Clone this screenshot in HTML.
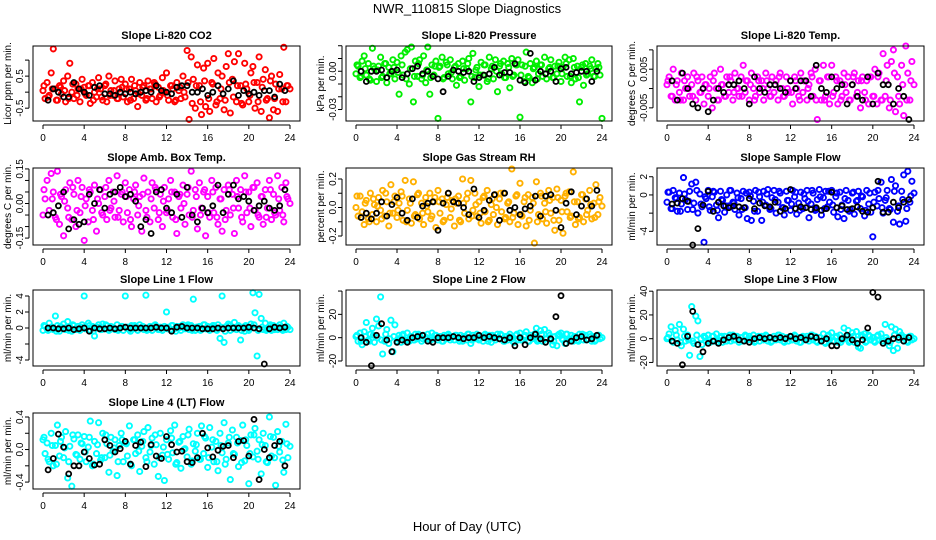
<!DOCTYPE html>
<html><head><meta charset="utf-8"><style>
html,body{margin:0;padding:0;background:#fff;}
svg{display:block;font-family:"Liberation Sans",sans-serif;}
</style></head><body>
<svg id="chart" width="936" height="540" viewBox="0 0 936 540">
<rect width="936" height="540" fill="#fff"/>
<text x="467" y="13" font-size="13" text-anchor="middle">NWR_110815  Slope Diagnostics</text>
<text x="467" y="531" font-size="13" text-anchor="middle">Hour of Day (UTC)</text>
</svg>
<script>
const hoursColor = [0,0.2,0.4,0.6,0.8,1,1.2,1.4,1.6,1.8,2,2.2,2.4,2.6,2.8,3,3.2,3.4,3.6,3.8,4,4.2,4.4,4.6,4.8,5,5.2,5.4,5.6,5.8,6,6.2,6.4,6.6,6.8,7,7.2,7.4,7.6,7.8,8,8.2,8.4,8.6,8.8,9,9.2,9.4,9.6,9.8,10,10.2,10.4,10.6,10.8,11,11.2,11.4,11.6,11.8,12,12.2,12.4,12.6,12.8,13,13.2,13.4,13.6,13.8,14,14.2,14.4,14.6,14.8,15,15.2,15.4,15.6,15.8,16,16.2,16.4,16.6,16.8,17,17.2,17.4,17.6,17.8,18,18.2,18.4,18.6,18.8,19,19.2,19.4,19.6,19.8,20,20.2,20.4,20.6,20.8,21,21.2,21.4,21.6,21.8,22,22.2,22.4,22.6,22.8,23,23.2,23.4,23.6,23.8,24];
const hoursBand = [0.1,0.5,0.9,1.3,1.7,2.1,2.5,2.9,3.3,3.7,4.1,4.5,4.9,5.3,5.7,6.1,6.5,6.9,7.3,7.7,8.1,8.5,8.9,9.3,9.7,10.1,10.5,10.9,11.3,11.7,12.1,12.5,12.9,13.3,13.7,14.1,14.5,14.9,15.3,15.7,16.1,16.5,16.9,17.3,17.7,18.1,18.5,18.9,19.3,19.7,20.1,20.5,20.9,21.3,21.7,22.1,22.5,22.9,23.3,23.7];
const hoursBlack = [0.5,1,1.5,2,2.5,3,3.5,4,4.5,5,5.5,6,6.5,7,7.5,8,8.5,9,9.5,10,10.5,11,11.5,12,12.5,13,13.5,14,14.5,15,15.5,16,16.5,17,17.5,18,18.5,19,19.5,20,20.5,21,21.5,22,22.5,23,23.5];
const xTicks = [0,4,8,12,16,20,24];

const co2Vals = [.05,-.2,.3,-.1,.6,1.35,.1,-.25,.2,-.05,.35,-.3,.5,.9,0,-.2,.25,.1,-.3,.4,.15,-.1,.2,-.35,.3,0,-.15,.45,.1,-.25,.2,-.3,.5,.05,-.1,.35,-.2,.1,.4,-.15,.25,-.3,.1,.4,-.2,.05,-.45,.3,-.1,.2,-.25,.35,.1,-.2,.3,-.3,.15,-.1,.45,0,.6,-.25,.2,.1,-.3,.3,.05,-.2,.5,-.15,1.3,-.85,1.1,.4,-.5,.85,.2,-.7,.75,-.45,.9,-.6,.3,1.05,-.4,.6,-.2,.5,-.55,.8,1.2,-.65,.4,.95,-.3,1.2,.2,-.4,.9,.1,-.3,.6,.8,-.5,.3,1.1,-.6,.4,.7,-.2,-.8,.5,-.55,.25,-.6,.55,.1,1.4,-.3,.2,.1];
const co2Band = [.2,-.15,.1,-.25,.15,.05,-.2,.25,-.1,.1,-.05,.2,-.25,.1,-.15,.25,-.1,.05,-.2,.15,.1,-.25,.2,-.05,.15,-.2,.1,.25,-.15,.05,-.1,.2,-.25,.15,0,.3,-.35,.2,-.3,.35,-.2,.25,-.3,.1,-.25,.3,-.15,.2,-.35,.25,-.1,.3,-.3,.15,-.25,.35,-.2,.1,-.3,.2];
const co2Black = [-.25,.1,0,-.15,-.15,.3,.1,0,-.1,.15,.2,-.05,-.05,-.1,0,-.05,0,-.05,0,.05,0,.2,.05,0,-.05,.15,.2,.2,0,0,.1,-.1,0,.2,-.05,.1,.35,-.1,.05,-.05,0,-.1,.05,.05,-.15,.25,.05];
const presVals = [-.002,.004,-.005,.008,.012,-.003,.006,-.007,.018,.002,-.008,.004,.011,-.004,.006,-.009,.003,-.002,.009,-.006,.007,-.018,.012,-.003,.015,.017,-.01,.019,-.024,.008,-.004,.009,-.006,.012,-.009,.019,-.018,.005,-.003,.008,-.037,.004,.011,-.005,.007,-.002,.009,-.006,.003,-.011,.006,-.004,.008,-.007,.002,.01,-.024,.014,-.005,.003,-.012,.007,-.003,.005,-.008,.011,.002,-.006,.009,-.016,.004,-.002,.008,-.005,.006,-.013,.01,-.003,.005,.009,-.036,.005,-.008,.015,-.004,.006,-.009,.003,.008,-.002,.005,-.004,.011,-.006,.002,.009,-.005,.004,-.002,.007,-.008,.003,.011,-.004,.009,-.009,.01,-.006,.004,-.024,.003,-.011,.006,-.002,.004,.009,-.004,.002,.006,-.003,-.037];
const presBand = [.005,-.004,.002,-.006,.004,.001,-.005,.006,-.002,.003,-.001,.005,-.006,.002,-.004,.006,-.003,.001,-.005,.004,.003,-.006,.005,-.001,.004,-.005,.002,.006,-.004,.001,-.003,.005,-.006,.004,0,.006,-.005,.003,-.004,.005,-.003,.004,-.005,.002,-.006,.005,-.002,.003,-.005,.004,-.002,.006,-.004,.003,-.005,.005,-.003,.002,-.004,.003];
const presBlack = [0,-.008,0,0,.001,-.005,0,.001,-.005,-.002,.002,.004,-.002,0,-.004,-.006,-.016,-.004,.001,0,-.001,0,-.008,-.005,-.003,-.002,.003,-.003,-.001,-.001,.006,-.007,-.009,.014,-.007,0,-.002,0,-.008,.002,.003,-.002,-.001,0,0,-.008,0];
const tempVals = [.001,.003,-.002,.005,-.003,.002,-.001,.004,-.003,0,.003,-.002,.001,.004,-.003,.002,-.001,.003,-.004,.001,-.002,.003,-.005,.004,0,-.003,.005,.001,-.002,.003,-.001,.002,-.003,.004,0,-.002,.003,.006,-.001,.002,-.003,.004,0,-.002,.003,-.001,.002,-.003,.004,0,-.002,.003,-.001,.002,-.003,.004,0,-.002,.003,-.001,.002,-.004,.003,0,-.002,.004,-.001,.002,-.003,.001,.004,-.002,.005,-.008,.002,-.003,.006,-.002,.003,-.004,.006,-.001,.003,-.004,.002,-.002,.004,-.001,.003,-.003,.001,.004,-.002,.002,-.005,.003,-.001,.002,-.004,.003,-.002,.005,-.004,.004,-.003,.009,-.002,.006,-.005,.007,.01,-.006,.003,-.004,.006,-.007,.011,.004,-.003,.007,.001];
const tempBand = [.002,-.002,.001,-.003,.002,0,-.002,.003,-.001,.001,0,.002,-.003,.001,-.002,.003,-.001,0,-.002,.002,.001,-.003,.002,0,.002,-.002,.001,.003,-.002,0,-.001,.002,-.003,.002,0,.003,-.003,.002,-.003,.003,-.002,.002,-.003,.001,-.003,.003,-.001,.002,-.003,.003,-.002,.003,-.003,.002,-.003,.004,-.002,.001,-.003,.002];
const tempBlack = [.002,-.003,.004,0,-.004,-.005,0,-.006,-.003,0,-.001,.001,.001,.002,0,-.004,.003,0,-.001,.001,.001,0,-.001,.002,0,.002,.002,-.002,.006,0,-.001,.003,0,.001,-.004,.001,-.002,-.003,.003,-.004,.004,.001,.001,-.004,0,-.002,-.008];
const ambVals = [-.05,.02,.1,-.03,.13,.05,-.06,.14,-.09,.03,-.14,.06,-.02,.09,-.07,.04,-.1,.1,-.04,.07,-.16,.02,-.08,.05,-.03,.08,-.12,0,.06,-.05,.03,-.07,.1,-.02,.05,-.06,.12,-.03,.04,-.08,.09,-.04,.06,-.1,.02,.08,-.05,.03,-.12,.11,-.03,.05,-.08,.09,-.02,.06,-.07,.04,-.1,.07,-.04,.02,.1,-.06,.05,-.13,.03,-.02,.08,-.09,.04,-.05,.14,-.03,.06,-.11,.09,-.02,.05,-.14,.03,-.06,.1,-.04,.07,-.09,.02,-.12,.06,-.03,.08,-.05,.04,-.13,.1,-.02,.06,-.08,.12,-.04,.05,-.1,.07,-.03,.09,-.06,.03,-.09,.06,-.02,.1,-.07,.04,-.05,.12,-.03,.07,-.08,.09,.02,0];
const ambBand = [.06,-.05,.02,-.07,.04,.01,-.06,.07,-.03,.03,-.01,.06,-.07,.02,-.04,.07,-.03,.01,-.06,.05,.03,-.07,.05,-.01,.04,-.06,.02,.07,-.04,.01,-.03,.05,-.07,.04,0,.07,-.06,.03,-.05,.06,-.04,.05,-.06,.02,-.07,.06,-.02,.03,-.06,.05,-.02,.07,-.05,.03,-.06,.06,-.04,.02,-.05,.03];
const ambBlack = [-.05,-.04,-.01,.05,-.11,-.07,-.09,-.08,.04,0,.06,-.02,.04,.05,.07,.03,.04,.01,-.1,-.07,-.13,.05,.06,-.02,-.04,.04,-.06,.07,-.05,-.08,-.02,-.04,-.01,.08,-.04,.04,.08,.02,.03,.01,-.03,-.01,.01,-.02,-.03,-.01,.06];
const rhVals = [0,-.06,.08,-.03,-.12,.05,-.08,.1,-.05,.02,-.1,.07,-.02,.12,-.06,.04,-.13,.16,-.04,.08,-.07,.03,.11,-.09,.19,-.02,.06,-.11,.18,-.05,.09,-.08,.03,-.12,.07,-.03,.1,-.06,.04,-.14,.12,-.04,.06,-.09,.02,.1,-.07,.05,-.13,.03,.08,-.1,.2,-.04,.06,-.08,.19,-.02,.1,-.06,.04,-.11,.07,-.03,.12,-.09,.02,-.05,.09,-.12,.06,-.03,.1,-.07,.03,-.1,.27,-.04,.08,-.12,.17,-.06,.04,-.13,.09,-.02,.07,-.25,.18,-.05,.1,-.08,.03,-.11,.12,-.04,.07,-.16,.13,-.09,.05,-.18,.08,-.03,.11,-.06,.25,-.12,.04,-.07,.09,-.1,.06,-.02,.12,-.08,.03,.16,-.05,.07,.01];
const rhBand = [.08,-.07,.03,-.1,.06,.01,-.08,.1,-.04,.04,-.02,.08,-.1,.03,-.06,.1,-.04,.01,-.08,.07,.04,-.1,.07,-.01,.06,-.09,.03,.1,-.06,.02,-.04,.08,-.1,.06,0,.1,-.08,.04,-.07,.09,-.05,.07,-.09,.03,-.1,.08,-.03,.05,-.09,.07,-.03,.1,-.07,.04,-.08,.09,-.05,.02,-.07,.04];
const rhBlack = [-.07,-.04,-.08,-.04,.04,-.06,.02,.07,-.04,-.09,.06,-.07,.01,.03,.04,-.16,.03,.1,.04,.03,0,-.05,.13,-.07,-.02,.05,.09,-.09,.1,-.02,0,-.05,-.01,.01,.08,-.06,.08,.09,-.02,-.14,.03,.11,-.05,.01,.06,.01,.12];
const flowVals = [-.8,.3,-1.5,.5,-.3,-1.8,.2,-1,1.9,-.5,-1.6,.4,1.2,-.9,1.4,-2,.1,-1.3,-5.2,-.4,.5,-1.7,-.2,.3,-1.1,-2.5,.4,-.6,-1.9,0,-1.2,.5,-.8,-1.6,.2,-2.2,-.4,.4,-1.4,-2.6,.3,-2.8,-.7,.5,-1.8,-.2,-2.8,.4,-1.1,.6,-1.6,-.3,.5,-2,-.8,.2,-1.4,-2.2,.4,-.6,-1.7,.5,-.2,-2.1,-.9,.3,-1.5,-.4,.5,-2.5,-1,.2,-1.7,-.5,.6,-2.2,-.3,.4,-1.3,-.8,.5,-1.9,-.2,-2.4,.3,-1.1,-2.6,.5,-.6,-1.6,.2,-2.1,-.7,.4,-1.5,-.2,-2.3,.5,-1,-1.9,-4.6,.3,-1.2,-.4,1.4,-2,-.6,.5,-1.5,1.7,-3,1,-1.8,-3.2,.4,2.2,-2.9,2.6,-.8,1.5,.2];
const flowBand = [.3,-1.5,-.4,-1.8,.1,-.7,-1.6,.5,-1,-.2,-1.3,.4,-1.7,-.5,-1.2,.5,-.9,-.3,-1.6,.2,-.1,-1.8,.3,-.8,.1,-1.5,-.5,.4,-1.4,-.6,-1,.3,-1.7,.1,-.7,.5,-1.6,-.2,-1.5,.4,-1.1,.2,-1.6,-.4,-1.8,.3,-.6,-.1,-1.7,.2,-.8,.5,-1.4,-.3,-1.6,.4,-1.2,-.5,-1.5,-.1];
const flowBlack = [-1,-.9,-.4,-.7,-5.5,-3.7,-1.1,.4,-1.8,-.8,-1.2,-1.4,-1.2,-1.3,-1.4,-.4,-1.5,-.9,-1.2,-1.3,-.8,-1.8,-1.5,.6,-1.5,-1.3,-1.4,-1.6,-1.4,-1.7,-1.5,.3,-1.4,-1.2,-1.6,-1.5,-1.3,-1.8,-1.9,-1.4,1.5,-1.9,-1.9,-.8,-1.4,-.8,-.5];
const l1Vals = [-.3,.2,-.1,.6,.1,-.2,1.5,.3,-.4,0,.5,-.2,.8,.1,-.4,.3,-.1,.2,-.3,.4,4,.1,.6,-.3,.2,-1,0,.4,-.2,.5,-.1,.3,-.3,.2,0,-.2,.4,-.1,.2,-.3,4,.1,-.2,.3,-.1,.2,-.3,.4,0,-.2,4.1,-.1,.2,-.3,.3,0,-.2,.1,-.3,.2,2,.1,-.2,.3,-.1,.2,0,-.3,.4,-.1,.2,-.2,.3,3.6,-.3,.1,.2,-.2,.4,-.1,.2,-.3,.1,.3,-.2,.4,-1.3,4,-1.8,.2,.5,-.3,.1,.7,-.2,.3,-1.5,.1,-.4,.2,-.3,.5,4.4,1.9,-3.5,4.2,1.2,-.2,.6,-.1,.2,-.3,.3,.1,-.2,.4,-.1,.6,-.2,.1,-.2];
const l1Band = [.3,-.3,.1,-.4,.2,0,-.3,.4,-.2,.1,-.1,.3,-.4,.1,-.2,.4,-.2,0,-.3,.2,.1,-.4,.3,0,.2,-.3,.1,.4,-.2,0,-.1,.3,-.4,.2,0,.4,-.3,.1,-.3,.4,-.2,.3,-.3,.1,-.4,.3,-.1,.2,-.3,.3,-.1,.4,-.3,.1,-.3,.4,-.2,.1,-.3,.2];
const l1Black = [0,0,-.1,-.1,0,-.2,-.1,0,-.4,0,-.1,-.1,0,-.1,0,.1,0,0,0,0,0,.1,0,0,-.4,.1,.2,0,0,0,-.1,-.1,-.1,0,-.1,0,0,0,0,.1,0,-.1,-4.5,-.1,.1,0,.1];
const l2Vals = [1,-3,4,-6,5,13,-2,3,8,-4,16,10,35,-14,-3,7,-5,15,-12,11,-3,2,-4,3,-2,4,-3,1,-2,3,-1,2,-3,2,-1,3,-2,4,-1,2,-2,1,-3,2,-1,3,-2,1,-2,2,-1,2,-3,1,-2,3,-5,2,-1,3,-2,1,-3,3,-1,2,-4,1,-2,3,-1,2,-3,1,-2,3,-1,-4,2,-2,4,-2,1,5,-3,2,-1,3,8,-2,6,-3,7,-1,4,-2,-6,1,-7,3,4,-2,-5,3,-1,2,-3,1,-2,3,1,-2,2,-1,3,-3,1,-2,2,-1,0];
const l2Band = [2,-3,1,-3,2,0,-2,3,-1,1,-1,2,-3,1,-2,3,-1,0,-2,2,1,-3,2,0,2,-3,1,3,-2,0,-1,2,-3,2,0,3,-3,1,-3,3,-2,2,-3,1,-3,3,-1,2,-3,2,-1,3,-2,1,-3,3,-2,1,-3,2];
const l2Black = [0,-4,-24,2,12,-2,-12,-4,-2,-4,0,1,2,-3,-4,0,0,0,1,0,-1,0,0,2,0,1,0,-1,-2,0,-7,0,-6,0,3,-1,-4,-1,18,36,-5,-3,0,1,-2,-1,2];
const l3Vals = [0,4,10,-3,7,-1,12,-6,8,-2,3,-14,27,-4,19,15,-15,-5,2,-2,3,-3,2,-2,4,-1,1,-3,2,-2,1,-2,3,-1,2,-3,1,-2,3,-1,2,-1,3,-2,1,-2,2,-1,3,-2,1,-2,2,-1,3,-1,2,-3,1,-2,2,-1,3,-2,1,-3,2,-1,2,-2,3,-1,2,-3,1,-2,4,-4,2,-1,5,-2,1,-3,3,-1,9,2,7,-2,5,-3,6,-7,-8,2,4,-2,3,-1,1,-3,2,-1,4,-2,12,-1,-6,10,-10,8,-8,6,3,-2,1,-3,2,-1,0];
const l3Band = [1,-2,3,-3,2,-1,-2,3,0,1,-1,2,-3,2,-2,3,-1,1,-2,2,0,-3,2,1,2,-3,0,3,-2,1,-1,2,-3,1,0,3,-2,1,-3,3,-2,2,-3,0,-3,2,-1,3,-3,2,-2,3,-2,1,-3,3,-1,1,-2,2];
const l3Black = [-2,-4,-22,2,23,-5,-11,-4,-2,-4,-1,1,2,-1,-2,-3,0,1,0,1,0,1,0,2,0,1,-1,2,1,-2,0,-6,-6,0,3,-1,-4,-1,9,39,35,-4,-2,0,1,-2,1];
const l4Vals = [.12,-.05,.08,-.15,.2,-.2,.05,.3,-.08,.15,-.1,.22,-.35,.04,-.45,.13,-.06,.18,-.12,.07,.16,-.15,.03,.35,-.2,.1,-.05,.33,-.13,.2,-.1,.07,-.28,.15,-.02,.12,-.32,.05,.2,-.15,.08,-.08,.29,-.2,.12,-.05,.18,-.27,.04,.22,-.1,.27,-.03,.14,-.18,.06,-.33,.2,-.07,-.38,.12,-.12,.23,-.04,.3,-.16,.09,-.23,.16,.01,-.09,.25,-.18,.07,-.02,.2,-.12,.29,-.05,.14,-.22,.27,.03,-.15,.1,-.26,.2,-.04,.33,-.12,.08,-.37,.24,-.06,.15,-.21,.11,.3,-.14,.05,-.42,.18,-.09,.26,-.02,.12,-.3,.2,.05,-.16,.4,-.08,.15,-.44,.22,-.03,.1,-.28,.31,-.1,.04];
const l4Band = [.15,-.12,.05,-.18,.1,.02,-.15,.18,-.07,.08,-.03,.15,-.18,.06,-.1,.18,-.07,.02,-.15,.12,.07,-.18,.12,-.02,.1,-.15,.05,.18,-.1,.03,-.06,.14,-.18,.1,0,.18,-.14,.06,-.12,.16,-.1,.12,-.15,.05,-.18,.15,-.05,.08,-.16,.12,-.05,.18,-.12,.06,-.15,.16,-.1,.04,-.13,.07];
const l4Black = [-.25,-.11,.19,.03,-.3,-.2,-.2,-.03,-.11,-.19,-.18,.12,.05,-.03,.01,.1,-.18,.05,.09,-.21,.06,-.08,-.11,.16,.06,-.03,-.02,-.15,-.16,-.1,.2,.02,-.09,-.01,.04,.05,-.1,.1,.11,-.08,.37,-.37,0,-.1,.05,.1,-.2];

const panelTitles = ["Slope Li-820 CO2","Slope Li-820 Pressure","Slope Li-820 Temp.","Slope Amb. Box Temp.","Slope Gas Stream RH","Slope Sample Flow","Slope Line 1 Flow","Slope Line 2 Flow","Slope Line 3 Flow","Slope Line 4 (LT) Flow"];
const yTitles = ["Licor ppm per min.","kPa per min.","degrees C per min.","degrees C per min.","percent per min.","ml/min per min.","ml/min per min.","ml/min per min.","ml/min per min.","ml/min per min."];
const yMins = [-0.9,-0.039,-0.0084,-0.18,-0.263,-5.5,-4.75,-24.3,-23,-0.485];
const yMaxs = [1.44,0.0198,0.011,0.154,0.277,2.96,4.75,40.9,41,0.449];
const yTickVals = [[-0.5,0,0.5,1],[-0.03,-0.02,-0.01,0,0.01,0.02],[-0.005,0,0.005,0.01],[-0.15,-0.1,-0.05,0,0.05,0.1,0.15],[-0.2,-0.1,0,0.1,0.2],[-4,-2,0,2],[-4,-2,0,2,4],[-20,0,20,40],[-20,0,20,40],[-0.4,-0.2,0,0.2,0.4]];
const yTickLabels = [["-0.5","","0.5",""],["-0.03","","","0.00","",""],["-0.005","","0.005",""],["-0.15","","","0.00","","","0.15"],["-0.2","","0.0","","0.2"],["-4","","0","2"],["-4","","0","2","4"],["-20","0","20",""],["-20","0","20","40"],["-0.4","","0.0","","0.4"]];
const seriesVals = [co2Vals,presVals,tempVals,ambVals,rhVals,flowVals,l1Vals,l2Vals,l3Vals,l4Vals];
const seriesBand = [co2Band,presBand,tempBand,ambBand,rhBand,flowBand,l1Band,l2Band,l3Band,l4Band];
const seriesBlack = [co2Black,presBlack,tempBlack,ambBlack,rhBlack,flowBlack,l1Black,l2Black,l3Black,l4Black];
const seriesColors = ["#ff0000","#00ee00","#ff00ff","#ff00ff","#ffb000","#0000ff","#00ffff","#00ffff","#00ffff","#00ffff"];
const panelKeys = ["co2","pressure","li820-temp","amb-box-temp","gas-rh","sample-flow","line1-flow","line2-flow","line3-flow","line4-flow"];

const colLeft = [33,346,657], colRight = [300,612,924];
const rowTop = [46,168,290,413], rowBottom = [121,245,366,489];
const NS = "http://www.w3.org/2000/svg";
const svg = document.getElementById("chart");
function mk(tag, attrs, parent){ const e=document.createElementNS(NS,tag); for(const k in attrs) e.setAttribute(k,attrs[k]); parent.appendChild(e); return e; }

for(let p=0;p<10;p++){
  const c=p%3, r=Math.floor(p/3);
  const L=colLeft[c], R=colRight[c], T=rowTop[r], B=rowBottom[r];
  const x0=L+10, x1=R-10;
  const xs = h => x0 + (h/24)*(x1-x0);
  const ys = v => B - (v-yMins[p])/(yMaxs[p]-yMins[p])*(B-T);
  const g = mk("g",{},svg);
  
  
  const t = mk("text",{x:(L+R)/2,y:T-7,"font-size":11,"font-weight":"bold","text-anchor":"middle"},g);
  t.textContent = panelTitles[p];
  
  
  const yt = mk("text",{x:0,y:0,"font-size":10,"text-anchor":"middle",transform:`translate(${L-22},${(T+B)/2}) rotate(-90)`},g);
  yt.textContent = yTitles[p];
  
  
  const pg = mk("g",{fill:"none",stroke:seriesColors[p],"stroke-width":1.9},g);
  
  
  const band = seriesBand[p];
  for(let i=0;i<Math.min(band.length,hoursBand.length);i++){
    const ci = mk("circle",{cx:xs(hoursBand[i]).toFixed(1),cy:ys(band[i]).toFixed(1),r:2.6},pg);
    
    
  }
  const vals = seriesVals[p];
  for(let i=0;i<Math.min(vals.length,hoursColor.length);i++){
    const ci = mk("circle",{cx:xs(hoursColor[i]).toFixed(1),cy:ys(vals[i]).toFixed(1),r:2.6},pg);
    
    
  }
  const bg = mk("g",{fill:"none",stroke:"#000","stroke-width":1.8},g);
  
  
  const bv = seriesBlack[p];
  for(let i=0;i<Math.min(bv.length,hoursBlack.length);i++){
    const ci = mk("circle",{cx:xs(hoursBlack[i]).toFixed(1),cy:ys(bv[i]).toFixed(1),r:2.5},bg);
    
    
  }
  const box = mk("rect",{x:L,y:T,width:R-L,height:B-T,fill:"none",stroke:"#000","stroke-width":1},g);
  
  
  const xa = mk("g",{},g);
  
  
  mk("line",{x1:xs(0),x2:xs(24),y1:B+4,y2:B+4,stroke:"#000"},xa);
  xTicks.forEach(h=>{
    mk("line",{x1:xs(h),x2:xs(h),y1:B+4,y2:B+8,stroke:"#000"},xa);
    const tl = mk("text",{x:xs(h),y:B+20,"font-size":10,"text-anchor":"middle"},xa);
    tl.textContent = String(h);
    
    
  });
  const ya = mk("g",{},g);
  
  
  const tv = yTickVals[p];
  mk("line",{x1:L-4,x2:L-4,y1:ys(tv[0]),y2:ys(tv[tv.length-1]),stroke:"#000"},ya);
  tv.forEach((v,i)=>{
    const y=ys(v);
    mk("line",{x1:L-8,x2:L-4,y1:y,y2:y,stroke:"#000"},ya);
    if(yTickLabels[p][i]){
      const tl = mk("text",{x:0,y:0,"font-size":10,"text-anchor":"middle",transform:`translate(${L-10},${y}) rotate(-90)`},ya);
      tl.textContent = yTickLabels[p][i];
      
      
    }
  });
}
</script>
</body></html>
